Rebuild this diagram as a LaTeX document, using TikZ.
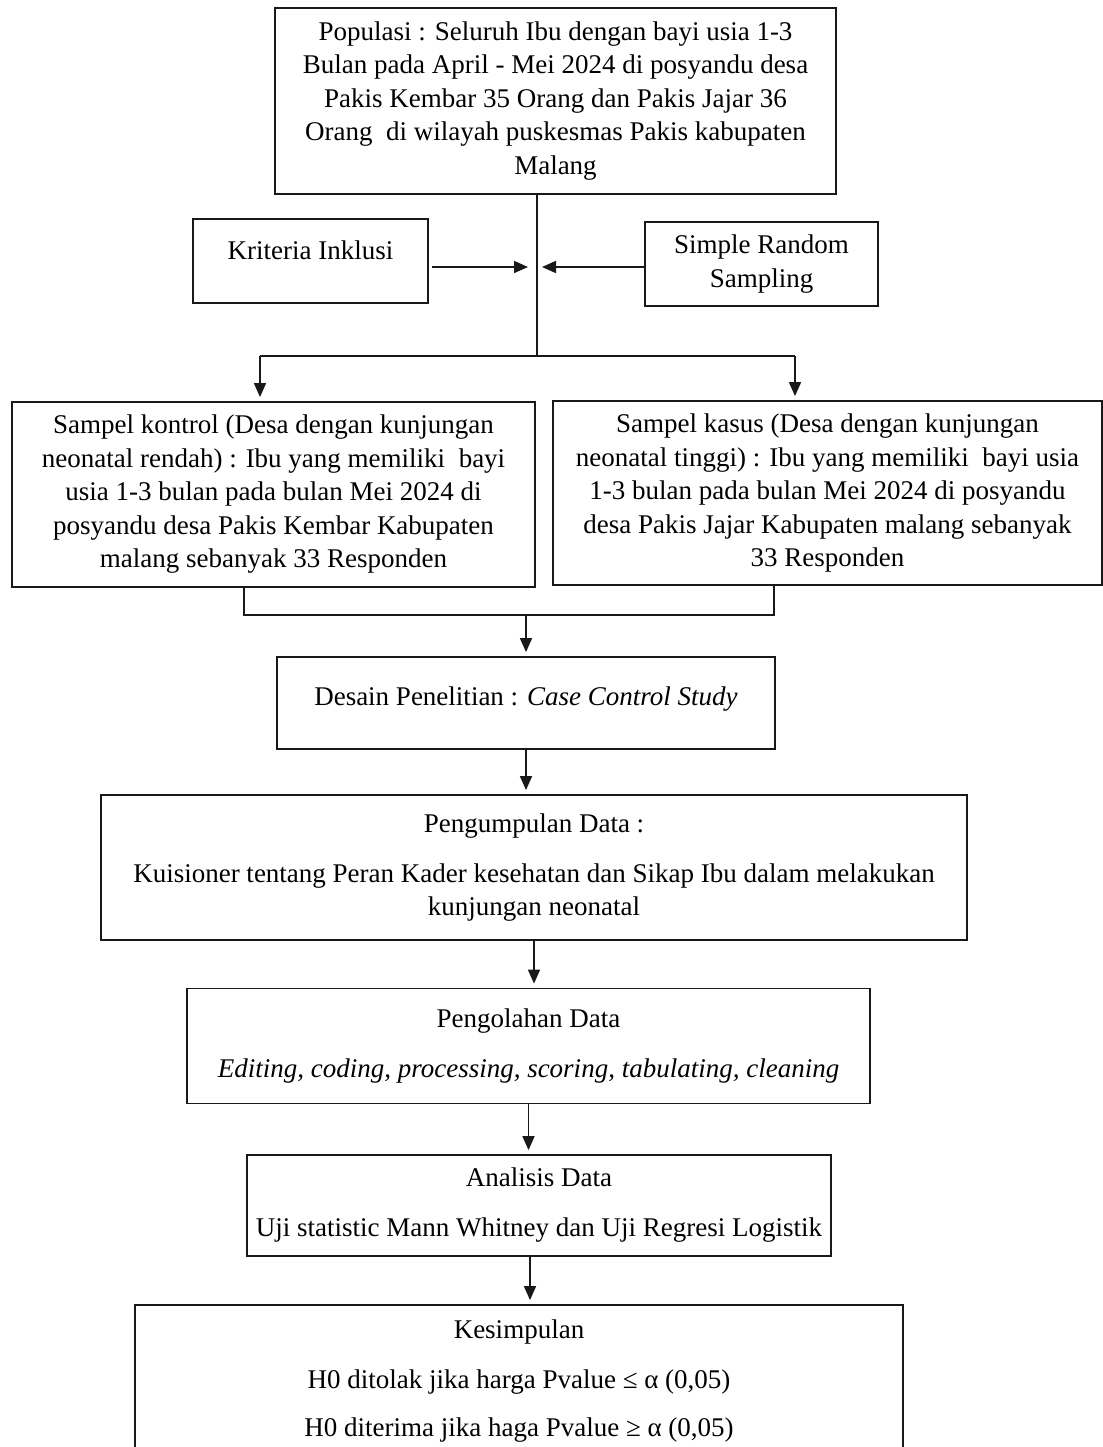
\documentclass[tikz,border=0pt]{standalone}
\usepackage{fontspec}
\setmainfont{Liberation Serif}
\usetikzlibrary{arrows.meta}

\begin{document}
\begin{tikzpicture}[x=0.5pt, y=-0.5pt,
	font=\fontsize{13.5}{16.75}\selectfont,
	box/.style={rectangle, draw=black!90, line width=0.9pt, align=center, inner sep=0pt},
	ln/.style={line width=0.8pt, black!90},
	fl/.style={-{Triangle[length=7pt, width=6pt]}, line width=0.8pt, black!90, shorten >=2pt}]

	\useasboundingbox (0,0) rectangle (1103,1447);
	\clip (0,0) rectangle (1103,1447);

	% --- populasi ---
	\node[box, minimum width=280.5pt, minimum height=93pt] (pop) at (555.5,101)
		{Populasi : Seluruh Ibu dengan bayi usia 1-3\\
		Bulan pada April - Mei 2024 di posyandu desa\\
		Pakis Kembar 35 Orang dan Pakis Jajar 36\\
		Orang~ di wilayah puskesmas Pakis kabupaten\\
		Malang};
	\node[box, minimum width=117.5pt, minimum height=42pt, text height=10pt, text depth=12pt] (krit) at (310.5,261) {Kriteria Inklusi};
	\node[box, minimum width=116.5pt, minimum height=42pt] (srs) at (761.5,264) {Simple Random\\ Sampling};

	\coordinate (split) at (537,356);
	\coordinate (inL) at (532,267);
	\coordinate (inR) at (538,267);
	\draw[ln] (pop.south -| split) -- (split);
	\draw[fl] ([xshift=1.5pt]krit.east |- inL) -- (inL);
	\draw[fl] (srs.west |- inR) -- (inR);

	% --- sampel ---
	\node[box, minimum width=261.5pt, minimum height=92.5pt] (kontrol) at (273.5,494.5)
		{Sampel kontrol (Desa dengan kunjungan\\
		neonatal rendah) : Ibu yang memiliki~ bayi\\
		usia 1-3 bulan pada bulan Mei 2024 di\\
		posyandu desa Pakis Kembar Kabupaten\\
		malang sebanyak 33 Responden};
	\node[box, minimum width=274.5pt, minimum height=92pt] (kasus) at (827.5,493)
		{Sampel kasus (Desa dengan kunjungan\\
		neonatal tinggi) : Ibu yang memiliki~ bayi usia\\
		1-3 bulan pada bulan Mei 2024 di posyandu\\
		desa Pakis Jajar Kabupaten malang sebanyak\\
		33 Responden};

	\coordinate (dL) at (260,356);
	\coordinate (dR) at (795,356);
	\draw[ln] (dL) -- (dR);
	\draw[fl] (dL) -- (dL |- kontrol.north);
	\draw[fl] (dR) -- (dR |- kasus.north);

	% --- desain ---
	\node[box, minimum width=249pt, minimum height=46pt, text height=10pt, text depth=8pt] (desain) at (526,703)
		{Desain Penelitian : \textit{Case Control Study}};

	\coordinate (mL) at (244,615);
	\coordinate (mR) at (774,615);
	\draw[ln] (kontrol.south -| mL) -- (mL) -- (mR) -- (kasus.south -| mR);
	\draw[fl] (desain.north |- mL) -- (desain.north);

	% --- data ---
	\node[box, minimum width=433pt, minimum height=72.5pt] (kumpul) at (534,867.5)
		{Pengumpulan Data :\\[8.25pt]
		Kuisioner tentang Peran Kader kesehatan dan Sikap Ibu dalam melakukan\\
		kunjungan neonatal};
	\node[box, minimum width=341.5pt, minimum height=57.5pt] (olah) at (528.5,1046)
		{Pengolahan Data\\[8.5pt]
		\textit{Editing, coding, processing, scoring, tabulating, cleaning}};
	\node[box, minimum width=292pt, minimum height=50.5pt] (analisis) at (539,1205.5)
		{Analisis Data\\[8.25pt]
		Uji statistic Mann Whitney dan Uji Regresi Logistik};
	\node[box, minimum width=384pt, minimum height=76pt] (simpul) at (519,1381)
		{Kesimpulan\\[8.25pt]
		H0 ditolak jika harga Pvalue ≤ α (0,05)\\[7pt]
		H0 diterima jika haga Pvalue ≥ α (0,05)};

	\draw[fl] (desain.south) -- (desain.south |- kumpul.north);
	\draw[fl] (kumpul.south) -- (kumpul.south |- olah.north);
	\draw[fl] (olah.south) -- (olah.south |- analisis.north);
	\draw[fl] ([xshift=-4.5pt]analisis.south) -- ([xshift=-4.5pt]analisis.south |- simpul.north);
\end{tikzpicture}
\end{document}
